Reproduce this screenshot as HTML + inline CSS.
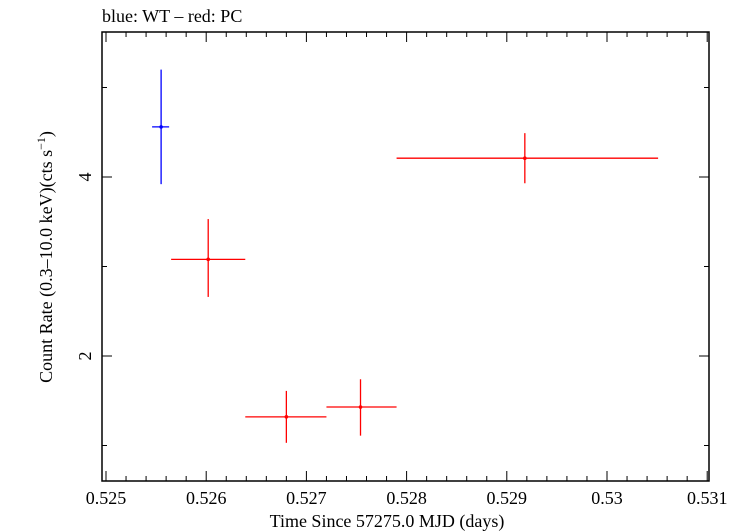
<!DOCTYPE html>
<html><head><meta charset="utf-8"><style>body{margin:0;background:#fff}svg{display:block;font-family:"Liberation Serif",serif}</style></head>
<body>
<svg id="c" width="739" height="532" xmlns="http://www.w3.org/2000/svg"></svg>
<script>
const wtX=[0.52555], wtXlo=[0.52546], wtXhi=[0.52563], wtY=[4.56], wtYlo=[3.92], wtYhi=[5.20];
const pcX=[0.52602,0.52680,0.52754,0.52918];
const pcXlo=[0.52565,0.52639,0.52720,0.52790];
const pcXhi=[0.52639,0.52720,0.52790,0.53051];
const pcY=[3.08,1.32,1.43,4.21];
const pcYlo=[2.66,1.03,1.11,3.93];
const pcYhi=[3.53,1.61,1.74,4.49];
const xTicks=[0.525,0.526,0.527,0.528,0.529,0.530,0.531];
const xTickLabels=["0.525","0.526","0.527","0.528","0.529","0.53","0.531"];
const yTicks=[2,4];
const yTickLabels=["2","4"];
const L=102,R=709,T=32,B=481;
const X=v=>106+(v-0.525)*100200;
const Y=v=>177-(v-4)*89.5;
const s=document.getElementById('c');
const NS='http://www.w3.org/2000/svg';
function el(t,a,p){const e=document.createElementNS(NS,t);for(const k in a)e.setAttribute(k,a[k]);(p||s).appendChild(e);return e;}
const fr=el('rect',{x:L,y:T,width:R-L,height:B-T,fill:'none',stroke:'#000','stroke-width':1.5});


const g=el('g',{stroke:'#000','stroke-width':1});


for(let i=0;i<=30;i++){const v=0.525+i*0.0002;const x=X(v);if(x>R)break;const len=i%5==0?10:5;
el('line',{x1:x,y1:B,x2:x,y2:B-len},g);el('line',{x1:x,y1:T,x2:x,y2:T+len},g);}
for(let v=1;v<=5;v++){const y=Y(v);const len=v%2==0?10:5;
el('line',{x1:L,y1:y,x2:L+len,y2:y},g);el('line',{x1:R,y1:y,x2:R-len,y2:y},g);}
xTicks.forEach((v,i)=>{const t=el('text',{x:X(v),y:504,'text-anchor':'middle','font-size':18});t.textContent=xTickLabels[i];
});
yTicks.forEach((v,i)=>{const t=el('text',{x:0,y:0,'text-anchor':'middle','font-size':18,transform:`translate(91,${Y(v)}) rotate(-90)`});t.textContent=yTickLabels[i];
});
const xt=el('text',{x:387,y:527,'text-anchor':'middle','font-size':18});xt.textContent='Time Since 57275.0 MJD (days)';

const yt=el('text',{x:0,y:0,'text-anchor':'middle','font-size':18,transform:'translate(52,257) rotate(-90)'});
yt.innerHTML='Count Rate (0.3\u201310.0 keV)(cts s<tspan dy="-7" font-size="12">\u22121</tspan><tspan dy="7">)</tspan>';

const ti=el('text',{x:102,y:22,'font-size':18});ti.textContent='blue: WT \u2013 red: PC';

function series(xs,xl,xh,ys,yl,yh,col,name){const gg=el('g',{stroke:col,fill:col,'stroke-width':1.3});

xs.forEach((x,i)=>{const p=el('g',{},gg);
el('line',{x1:X(xl[i]),y1:Y(ys[i]),x2:X(xh[i]),y2:Y(ys[i])},p);
el('line',{x1:X(x),y1:Y(yl[i]),x2:X(x),y2:Y(yh[i])},p);
el('circle',{cx:X(x),cy:Y(ys[i]),r:1.8,stroke:'none'},p);});}
series(wtX,wtXlo,wtXhi,wtY,wtYlo,wtYhi,'#0000ff','wt-series');
series(pcX,pcXlo,pcXhi,pcY,pcYlo,pcYhi,'#ff0000','pc-series');
</script>
</body></html>
